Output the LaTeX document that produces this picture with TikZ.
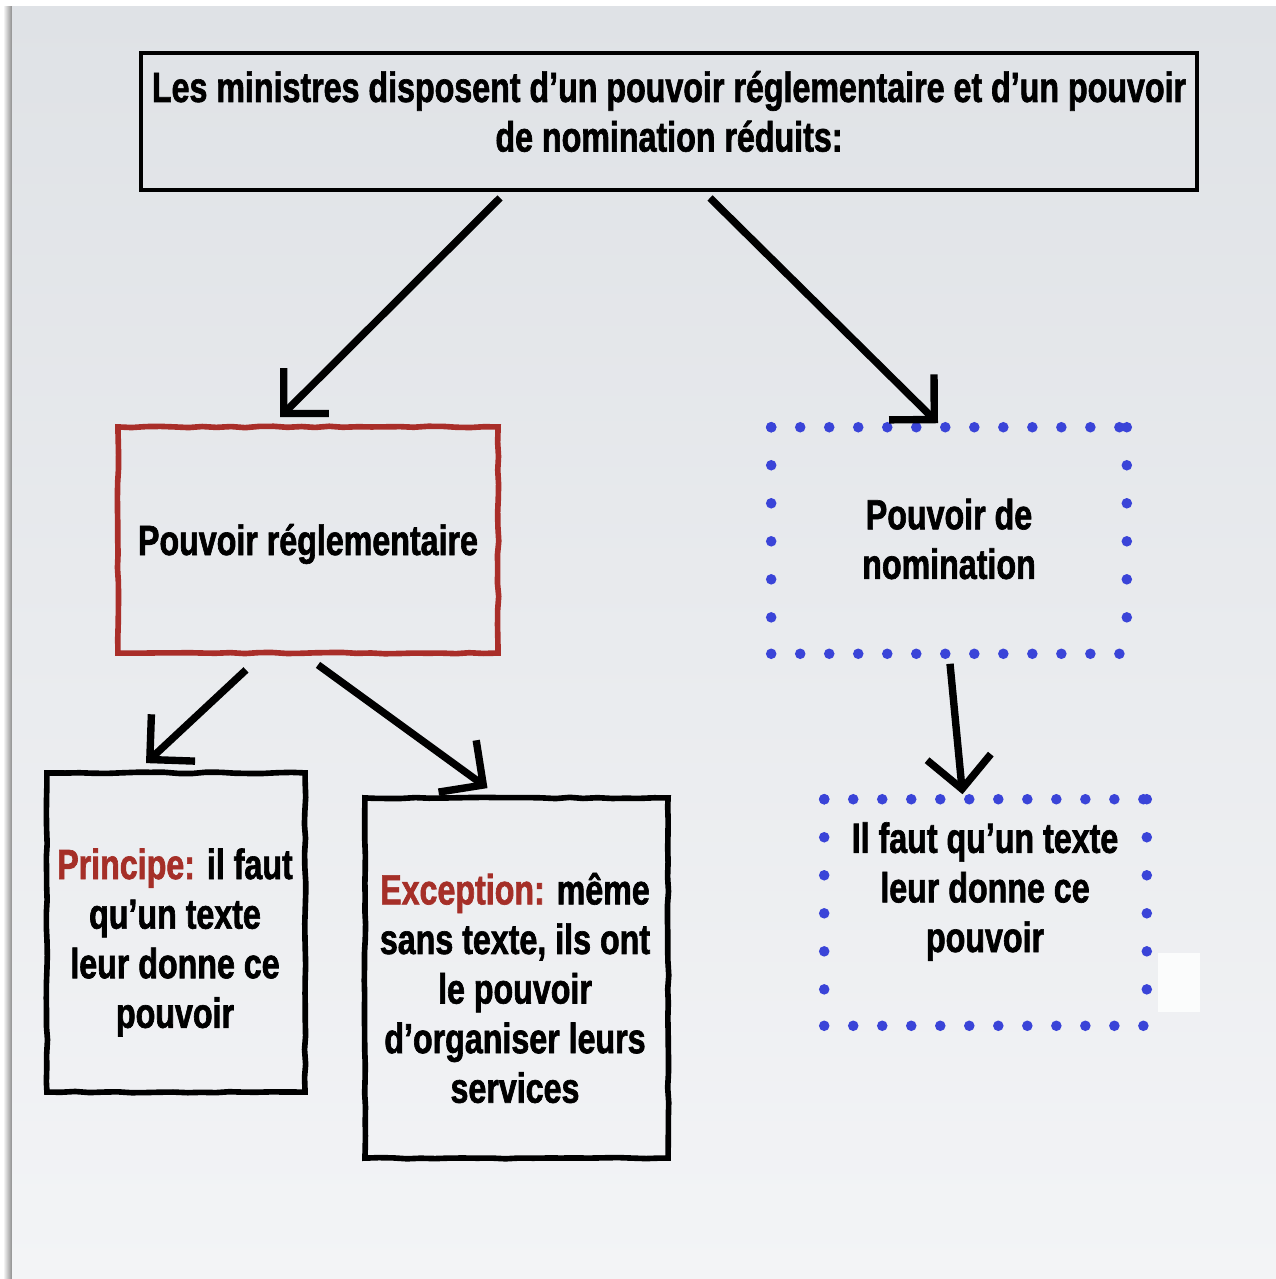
\documentclass[tikz,border=0pt]{standalone}
\usepackage{fontspec}
\setmainfont{Liberation Sans}[FakeStretch=0.763, BoldFeatures={FakeBold=1.5}]
\usepackage{tikz}
\usetikzlibrary{positioning}
\usetikzlibrary{arrows.meta}
\usetikzlibrary{decorations.pathmorphing}
\definecolor{slidetop}{HTML}{DFE2E6}
\definecolor{slidebottom}{HTML}{F3F4F6}
\definecolor{boxred}{HTML}{A92E29}
\definecolor{wordred}{HTML}{A52F28}
\definecolor{dotblue}{HTML}{3A44D8}
\tikzset{
	rough/.style={
		decorate, decoration={random steps, segment length=4pt, amplitude=0.2pt}
	},
	boxframe/.style={
		rectangle, inner sep=0pt
	},
	plainbox/.style={
		boxframe, draw, line width=1.1pt
	},
	handbox/.style={
		boxframe, draw, line width=1.6pt, rough
	},
	redbox/.style={
		handbox, draw=boxred
	},
	dotbox/.style={
		boxframe
	},
	dotrow/.style={
		dotblue, line width=3pt, line cap=round, dash pattern=on 0pt off 0.29cm
	},
	dotcol/.style={
		dotrow, dash pattern=on 0pt off 0.38cm
	},
	boxtext/.style={
		font=\bfseries\fontsize{12}{14.1}\selectfont, align=center, inner sep=0pt
	},
	sketch arrow/.style={
		line width=2.1pt, -{Straight Barb[length=0.32cm, width=0.64cm]}
	}
}
\def\dotframe#1{%
	\draw[dotrow] (#1.north west) -- (#1.north east);
	\draw[dotrow] (#1.south west) -- (#1.south east);
	\draw[dotcol] (#1.north west) -- (#1.south west);
	\draw[dotcol] (#1.north east) -- (#1.south east);
}
\begin{document}
\begin{tikzpicture}[x=0.01cm, y=-0.01cm]
    \useasboundingbox (0,0) rectangle (1276,1279);
    % slide background
    \fill[white] (0,0) rectangle (1276,1279);
    \shade[left color=white, right color=black!45] (3,7) rectangle (12,1279);
    \shade[top color=slidetop, bottom color=slidebottom] (12,7) rectangle (1276,1279);
    \fill[white!70!slidebottom] (1158,953) rectangle (1200,1012);

    \node[plainbox, minimum width=10.56cm, minimum height=1.37cm] (rule) at (669,121.5) {};
    \node[boxtext] (rule-text) at (669,111.5) {Les ministres disposent d’un pouvoir réglementaire et d’un pouvoir\\de nomination réduits:};

    \node[redbox, minimum width=3.80cm, minimum height=2.26cm] (reglementaire) at (308,540) {};
    \node[boxtext] (reglementaire-text) at (308,544) {Pouvoir réglementaire};

    \node[dotbox, minimum width=3.54cm, minimum height=2.25cm] (nomination) at (949,540.5) {};
    \node[boxtext] (nomination-text) at (949,539) {Pouvoir de\\nomination};
    \dotframe{nomination}

    \node[handbox, minimum width=2.58cm, minimum height=3.19cm] (principe) at (176,932.5) {};
    \node[boxtext] (principe-text) at (175,942.5) {{\color{wordred}Principe:} il faut\\qu’un texte\\leur donne ce\\pouvoir};

    \node[handbox, minimum width=3.03cm, minimum height=3.60cm] (exception) at (516.5,978) {};
    \node[boxtext] (exception-text) at (515,988) {{\color{wordred}Exception:} même\\sans texte, ils ont\\le pouvoir\\d’organiser leurs\\services};

    \node[dotbox, minimum width=3.21cm, minimum height=2.25cm] (faut) at (985.5,912.5) {};
    \node[boxtext] (faut-text) at (985,891.5) {Il faut qu’un texte\\leur donne ce\\pouvoir};
    \dotframe{faut}

    \draw[sketch arrow] ([shift={(-169,6)}]rule.south) -- ([shift={(-28,-7)}]reglementaire.north);
    \draw[sketch arrow] ([shift={(41,6)}]rule.south) -- ([shift={(-11,-4)}]nomination.north);
    \draw[sketch arrow] ([shift={(-62,14)}]reglementaire.south) -- ([shift={(-30,-7)}]principe.north);
    \draw[sketch arrow] ([shift={(10,9)}]reglementaire.south) -- ([shift={(-29,-7)}]exception.north);
    \draw[sketch arrow] ([shift={(1,10)}]nomination.south) -- ([shift={(-23,-5)}]faut.north);
\end{tikzpicture}
\end{document}
